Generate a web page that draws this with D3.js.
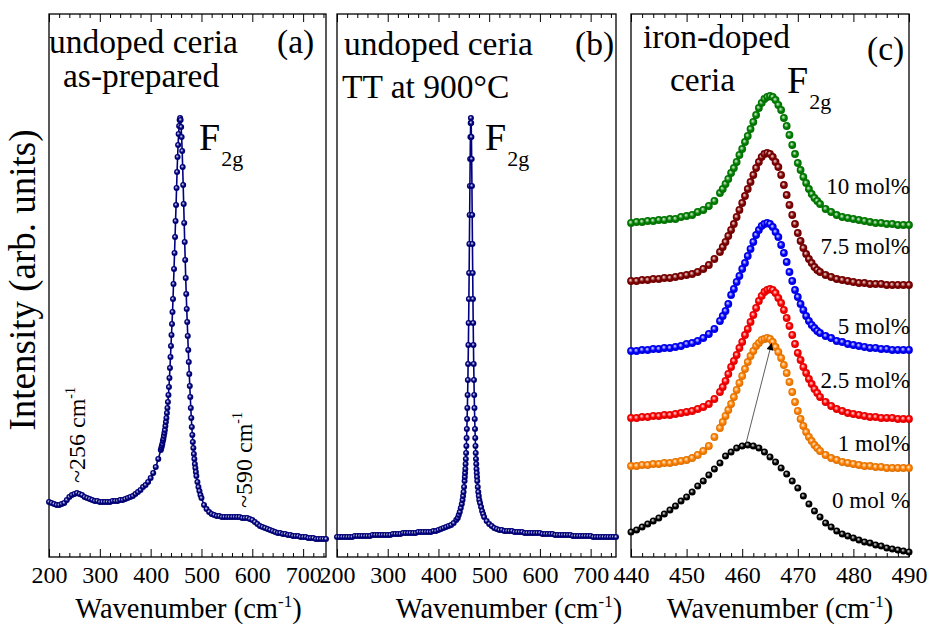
<!DOCTYPE html>
<html><head><meta charset="utf-8">
<script src="https://cdn.jsdelivr.net/npm/d3@7/dist/d3.min.js"></script>
<style>
html,body{margin:0;padding:0;background:#fff;}
</style></head>
<body>
<svg id="chart" width="930" height="625" font-family="'Liberation Serif','Tinos','DejaVu Serif','Noto Serif',serif"></svg>
<script>
// ================= DATA (arbitrary intensity units) =================
// (a) undoped ceria, as-prepared : [wavenumber, intensity]
const spectrumAsPrepared = [[200,55],[205,54],[210,53],[215,52],[220,52],[225,53],[230,54],[235,57],[240,60],[245,62],[250,63],[255,64],[260,63],[265,62],[270,60],[275,59],[280,58],[285,57],[290,56],[295,56],[300,55],[305,55],[310,55],[315,55],[320,55],[325,56],[330,56],[335,56],[340,57],[345,57],[350,58],[355,59],[360,60],[365,61],[370,63],[375,65],[380,67],[385,70],[390,72],[395,75],[400,79],[405,84],[410,90],[415,98],[420,107],[421,109],[422,111],[423,113],[424,116],[425,118],[426,121],[427,124],[428,127],[429,131],[430,135],[431,139],[432,144],[433,149],[434,155],[435,162],[436,170],[437,179],[438,189],[439,200],[440,211],[441,222],[442,233],[443,245],[444,258],[445,273],[446,288],[447,304],[448,320],[449,336],[450,352],[451,369],[452,385],[453,400],[454,412],[455,423],[456,431],[457,437],[458,439],[459,437],[460,430],[461,420],[462,406],[463,390],[464,372],[465,353],[466,334],[467,315],[468,297],[469,279],[470,263],[471,248],[472,235],[473,221],[474,207],[475,195],[476,183],[477,171],[478,160],[479,149],[480,139],[481,130],[482,122],[483,115],[484,109],[485,103],[486,98],[487,93],[488,89],[489,85],[490,81],[492,75],[494,70],[496,66],[498,62],[500,59],[505,52],[510,48],[515,45],[520,43],[525,42],[530,41],[535,41],[540,40],[545,40],[550,40],[555,40],[560,40],[565,40],[570,40],[575,40],[580,39],[585,39],[590,39],[595,38],[600,37],[605,35],[610,33],[615,31],[620,30],[625,29],[630,28],[635,27],[640,26],[645,25],[650,24],[655,24],[660,23],[665,23],[670,22],[675,22],[680,21],[685,21],[690,21],[695,20],[700,20],[705,20],[710,19],[715,19],[720,19],[725,18],[730,18],[735,18],[740,18],[745,18]];

// (b) undoped ceria, TT at 900 °C : [wavenumber, intensity]
const spectrumTT900 = [[200,20],[205,20],[210,20],[215,20],[220,20],[225,20],[230,20],[235,21],[240,21],[245,21],[250,21],[255,21],[260,21],[265,21],[270,22],[275,22],[280,22],[285,22],[290,22],[295,22],[300,22],[305,22],[310,23],[315,23],[320,23],[325,23],[330,24],[335,24],[340,24],[345,24],[350,24],[355,24],[360,25],[365,25],[370,25],[375,25],[380,25],[385,25],[390,26],[395,26],[400,27],[405,28],[410,29],[415,30],[420,31],[425,32],[430,34],[435,37],[438,39],[440,42],[442,45],[444,49],[446,53],[447.5,57],[448.5,61],[449.5,65],[450.5,70],[451.5,76],[452,80],[452.5,84],[453,88],[453.5,93],[454,98],[454.5,104],[455,111],[455.5,119],[456,128],[456.5,138],[457,149],[457.5,162],[458,177],[458.5,193],[459,212],[459.5,234],[460,258],[460.5,284],[461,313],[461.5,342],[462,371],[462.5,398],[463,420],[463.5,434],[464,439],[464.5,434],[465,420],[465.5,398],[466,371],[466.5,342],[467,313],[467.5,284],[468,258],[468.5,234],[469,212],[469.5,193],[470,177],[470.5,162],[471,149],[471.5,138],[472,128],[472.5,119],[473,111],[473.5,104],[474,98],[474.5,93],[475,88],[475.5,84],[476,80],[476.5,76],[477.5,70],[478.5,65],[479.5,61],[480.5,57],[482,54],[484,50],[486,46],[488,43],[490,40],[495,36],[500,33],[505,31],[510,29],[515,28],[520,27],[525,27],[530,26],[535,26],[540,26],[545,26],[550,25],[555,25],[560,25],[565,25],[570,24],[575,24],[580,24],[585,24],[590,24],[595,24],[600,24],[605,23],[610,23],[615,23],[620,23],[625,23],[630,22],[635,22],[640,22],[645,22],[650,22],[655,22],[660,22],[665,21],[670,21],[675,21],[680,21],[685,21],[690,21],[695,21],[700,21],[705,20],[710,20],[715,20],[720,20],[725,20],[730,20],[735,20],[740,20],[745,20],[750,20]];

// (c) iron-doped ceria, stacked spectra
const dopedWavenumber = [440,441,442,443,444,445,446,447,448,449,450,451,452,453,454,455,
  456,456.5,457,457.5,458,458.5,459,459.5,460,460.5,461,461.5,462,462.5,463,463.5,464,464.5,465,465.5,466,466.5,467,467.5,468,468.5,469,469.5,470,470.5,471,471.5,472,472.5,473,473.5,474,
  475,476,477,478,479,480,481,482,483,484,485,486,487,488,489,490];
const intensity1 = [91,91,92,92,93,93,94,94,95,96,97,99,102,106,111,120,
  129,135,141,147,153,160,167,174,181,188,195,201,206,211,214,217,218,219,218,215,210,205,199,192,184,175,165,155,146,138,131,125,120,116,112,109,106,
  102,99,97,95,94,93,92,91,91,90,90,89,89,89,89,89];
const intensity2_5 = [139,139,140,140,141,141,142,142,143,144,145,146,148,150,153,158,
  165,170,176,183,190,196,202,209,215,222,228,235,242,249,256,261,265,267,268,267,264,259,254,247,239,231,222,213,204,197,190,184,178,173,168,164,160,
  155,151,148,146,144,143,142,141,140,140,139,139,139,138,138,138];
const intensity5 = [206,206,207,207,208,208,209,209,210,211,213,214,216,219,223,228,
  236,241,246,253,262,268,275,281,288,294,301,308,315,322,327,331,333,334,333,330,325,320,312,304,295,285,276,267,260,253,247,241,236,232,229,226,224,
  221,219,216,215,213,212,211,210,209,209,208,208,207,207,207,207];
const intensity7_5 = [276,276,277,277,278,278,279,279,280,281,282,283,285,288,292,298,
  305,310,315,321,327,333,340,347,354,361,368,375,382,389,395,400,403,404,403,400,395,390,382,372,362,352,342,333,324,316,309,303,298,294,290,287,285,
  282,280,278,277,276,275,274,274,273,273,273,272,272,272,272,272];
const intensity10 = [334,335,335,336,336,337,337,338,338,340,341,342,345,347,351,356,
  364,368,373,378,384,389,395,402,408,415,421,428,435,442,449,454,458,460,461,460,457,452,447,439,431,422,412,403,394,387,380,374,368,363,359,356,353,
  348,345,342,340,339,338,337,336,335,334,334,333,333,332,332,332];
const undopedWavenumber = [440,441,442,443,444,445,446,447,448,449,450,451,452,453,454,455,456,457,458,459,460,461,462,463,464,465,466,467,468,469,470,471,472,473,474,475,476,477,478,479,480,481,482,483,484,485,486,487,488,489,490];
const intensity0 = [25,27,30,33,36,39,43,47,51,56,60,65,71,76,82,88,94,101,105,109,111,112,111,109,105,100,95,89,83,76,69,61,53,46,40,34,30,26,23,21,19,17,15,14,12,11,9,8,7,6,5];

const dopingLabels = ["0 mol %","1 mol%","2.5 mol%","5 mol%","7.5 mol%","10 mol%"];
const labelLevels  = [49,106,169,223,303,363];          // intensity level of each label baseline
const shiftArrow   = [[460.7,114],[465.3,214]];          // F2g shift arrow (wavenumber, intensity)

const ticksA = [200,300,400,500,600,700];
const ticksB = [200,300,400,500,600,700];
const ticksC = [440,450,460,470,480,490];

// ================= LAYOUT / STYLE =================
const FONT = "'Liberation Serif','Tinos','DejaVu Serif','Noto Serif',serif";
const TOP = 14, BOTTOM = 557;
const svg = d3.select("#chart");
const defs = svg.append("defs");
const yScale = d3.scaleLinear().domain([0,543]).range([BOTTOM,TOP]);

const panels = [
  {domain:[200,745], range:[49,326], major:ticksA, minorStep:20, titleX:188.5},
  {domain:[200,750], range:[337,616], major:ticksB, minorStep:20, titleX:509},
  {domain:[440,490], range:[631,909], major:ticksC, minorStep:2,  titleX:780}
];
panels.forEach(p => p.x = d3.scaleLinear().domain(p.domain).range(p.range));

let gradCount = 0;
function sphere(color){
  const id = "sph" + (gradCount++);
  const g = defs.append("radialGradient").attr("id",id)
    .attr("cx","50%").attr("cy","50%").attr("r","52%").attr("fx","40%").attr("fy","36%");
  const mix = d3.interpolateRgb(color,"#ffffff");
  g.append("stop").attr("offset","0%").attr("stop-color",mix(0.92));
  g.append("stop").attr("offset","25%").attr("stop-color",mix(0.5));
  g.append("stop").attr("offset","55%").attr("stop-color",color);
  g.append("stop").attr("offset","100%").attr("stop-color",d3.color(color).darker(0.5).formatHex());
  return id;
}

function drawSpectrum(x, pts, color, r, withLine){
  const gid = sphere(color);
  const g = svg.append("g");
  if (withLine){
    g.append("path").datum(pts)
      .attr("d", d3.line().x(d=>x(d[0])).y(d=>yScale(d[1])))
      .attr("fill","none").attr("stroke",color).attr("stroke-width",1.6);
  }
  g.selectAll("circle").data(pts).join("circle")
    .attr("cx",d=>x(d[0])).attr("cy",d=>yScale(d[1])).attr("r",r)
    .attr("fill",`url(#${gid})`);
}

function styleText(sel, size){
  return sel.attr("font-family",FONT).style("font-family",FONT).attr("font-size",size).attr("fill","#000");
}

// ---------- frames and axes ----------
panels.forEach(p => {
  const g = svg.append("g");
  const minor = d3.range(p.domain[0], p.domain[1]+1e-6, p.minorStep).filter(v => !p.major.includes(v));
  const strip = s => { s.select(".domain").remove(); };
  g.append("g").attr("transform",`translate(0,${BOTTOM})`)
    .call(d3.axisBottom(p.x).tickValues(minor).tickSize(-4).tickFormat("")).call(strip);
  g.append("g").attr("transform",`translate(0,${TOP})`)
    .call(d3.axisTop(p.x).tickValues(minor).tickSize(-4).tickFormat("")).call(strip);
  g.append("g").attr("transform",`translate(0,${TOP})`)
    .call(d3.axisTop(p.x).tickValues(p.major).tickSize(-8).tickFormat("")).call(strip);
  const ax = g.append("g").attr("transform",`translate(0,${BOTTOM})`)
    .call(d3.axisBottom(p.x).tickValues(p.major).tickSize(-8).tickPadding(9).tickFormat(d3.format("d"))).call(strip);
  styleText(ax.selectAll("text"), 24);
  g.selectAll(".tick line").attr("stroke","#000").attr("stroke-width",1);
  g.append("rect").attr("x",p.range[0]).attr("y",TOP)
    .attr("width",p.range[1]-p.range[0]).attr("height",BOTTOM-TOP)
    .attr("fill","none").attr("stroke","#000").attr("stroke-width",1.3);
  // x title
  const t = styleText(svg.append("text"),28.5).attr("x",p.titleX).attr("y",618).attr("text-anchor","middle");
  t.append("tspan").text("Wavenumber (cm");
  t.append("tspan").attr("font-size",17).attr("dy",-11).text("-1");
  t.append("tspan").attr("dy",11).text(")");
});

// ---------- spectra ----------
const [pa,pb,pc] = panels;
drawSpectrum(pa.x, spectrumAsPrepared, "#000080", 3.0, true);
drawSpectrum(pb.x, spectrumTT900, "#000080", 3.0, true);

const dopedColors = ["#000000","#ff8000","#ff0000","#0000ff","#800000","#008000"];
const dopedSeries = [
  d3.zip(undopedWavenumber, intensity0),
  d3.zip(dopedWavenumber, intensity1),
  d3.zip(dopedWavenumber, intensity2_5),
  d3.zip(dopedWavenumber, intensity5),
  d3.zip(dopedWavenumber, intensity7_5),
  d3.zip(dopedWavenumber, intensity10)
];
dopedSeries.forEach((s,i) => drawSpectrum(pc.x, s, dopedColors[i], i===0 ? 3.5 : 3.9, false));

// arrow showing F2g shift
defs.append("marker").attr("id","arrowHead").attr("viewBox","0 0 10 10")
  .attr("refX",10).attr("refY",5).attr("markerUnits","userSpaceOnUse")
  .attr("markerWidth",9).attr("markerHeight",7).attr("orient","auto")
  .append("path").attr("d","M0,0 L10,5 L0,10 Z").attr("fill","#000");
svg.append("line")
  .attr("x1",pc.x(shiftArrow[0][0])).attr("y1",yScale(shiftArrow[0][1]))
  .attr("x2",pc.x(shiftArrow[1][0])).attr("y2",yScale(shiftArrow[1][1]))
  .attr("stroke","#333").attr("stroke-width",0.8).attr("marker-end","url(#arrowHead)");

// doping labels
dopingLabels.forEach((lab,i) => {
  styleText(svg.append("text"),23).attr("x",910).attr("y",yScale(labelLevels[i]))
    .attr("text-anchor","end").text(lab);
});

// ---------- texts ----------
function txt(x,y,str,size,anchor){
  return styleText(svg.append("text"),size).attr("x",x).attr("y",y)
    .attr("text-anchor",anchor||"start").text(str);
}
txt(49,53,"undoped ceria",33.5);
txt(63,87,"as-prepared",33.5);
txt(277,53,"(a)",33.5);
txt(344,55,"undoped ceria",33.5);
txt(342,98,"TT at 900°C",33.5);
txt(575,55,"(b)",33.5);
txt(643,48,"iron-doped",33.5);
txt(670,91,"ceria",33.5);
txt(867,60,"(c)",33.5);

function f2g(x,y){
  const t = styleText(svg.append("text"),38).attr("x",x).attr("y",y);
  t.append("tspan").text("F");
  t.append("tspan").attr("font-size",22).attr("dy",16).attr("dx",1).text("2g");
}
f2g(199,150);
f2g(485,150);
f2g(787,93);

function rotNote(x,y,str){
  const t = styleText(svg.append("text"),24).attr("transform",`translate(${x},${y}) rotate(-90)`);
  t.append("tspan").text(str);
  t.append("tspan").attr("font-size",14).attr("dy",-10).text("-1");
}
rotNote(pa.x(256)+8, 483, "~256 cm");
rotNote(pa.x(590)+5, 508, "~590 cm");

styleText(svg.append("text"),37).attr("transform","translate(35,280) rotate(-90)")
  .attr("text-anchor","middle").text("Intensity (arb. units)");
</script>
</body></html>
